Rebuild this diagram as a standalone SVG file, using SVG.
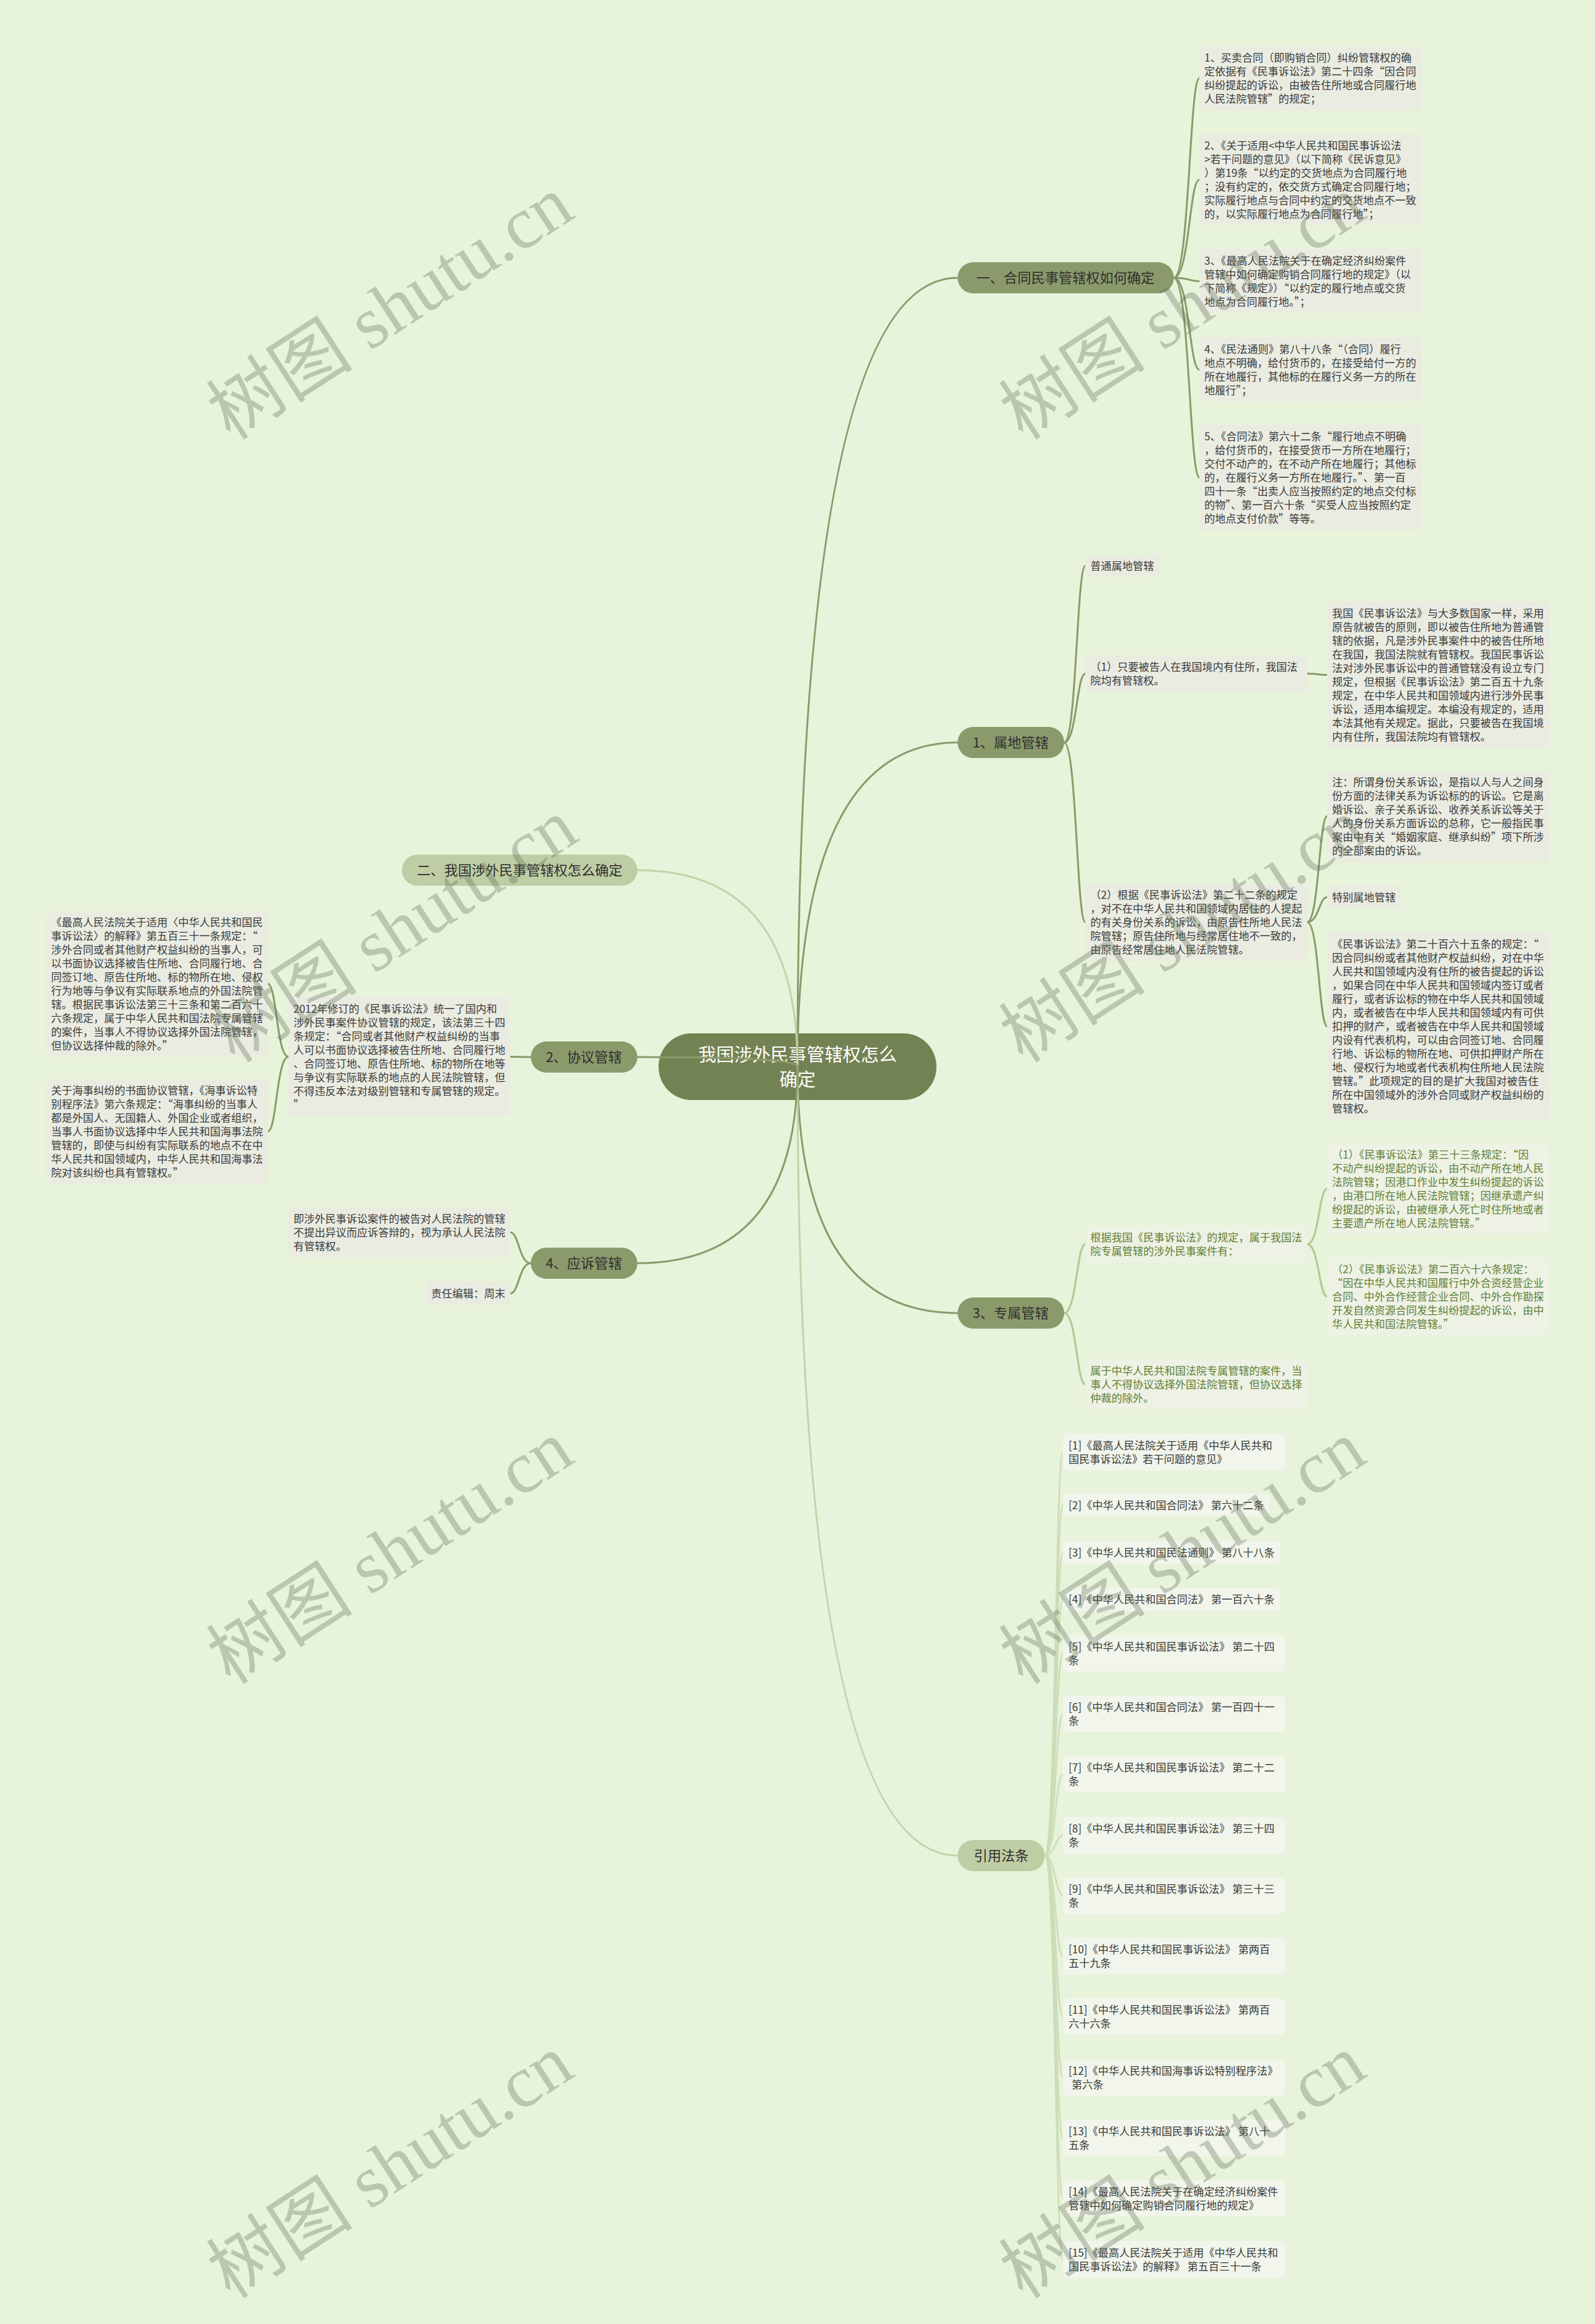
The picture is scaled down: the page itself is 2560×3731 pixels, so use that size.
<svg xmlns="http://www.w3.org/2000/svg" width="2560" height="3731" viewBox="0 0 2560 3731">
<style>
.t{font-family:"Noto Sans CJK SC","Noto Sans",sans-serif;font-size:17px;fill:#3a3a3a}
.g{fill:#5e7f36}
.box{fill:#eaece2}
.boxg{fill:#eef2e5}
.boxr{fill:#f1f5eb}
.n1{fill:#8b9a6b}
.n1l{fill:#bfcda5}
.lt{font-family:"Noto Sans CJK SC","Noto Sans",sans-serif;font-size:22px;fill:#2e2e2e;text-anchor:middle}
.rt{font-family:"Noto Sans CJK SC","Noto Sans",sans-serif;font-size:29px;fill:#ffffff;text-anchor:middle}
.cd{fill:none;stroke:#8b9a6b;stroke-width:3}
.cl{fill:none;stroke:#c3d3aa;stroke-width:3}
.cg{fill:none;stroke:#b2c694;stroke-width:3}
.cp{fill:none;stroke:#cddcb8;stroke-width:2.5}
.wm{font-family:"Liberation Serif","Noto Sans CJK SC",serif;font-size:118px;fill:#5f6e55;fill-opacity:0.33;text-anchor:middle}
</style>
<rect width="2560" height="3731" fill="#e7f3da"/>

<g id="root">
<rect x="1057" y="1659" width="446" height="107" rx="53" fill="#738253"/>
<text class="rt"><tspan x="1280" y="1704">我国涉外民事管辖权怎么</tspan><tspan x="1280" y="1744">确定</tspan></text>
</g>

<g id="connectors">
<path class="cd" d="M1280,1712 Q1280,446 1537,446"/>
<path class="cd" d="M1280,1712 Q1280,1192 1537,1192"/>
<path class="cd" d="M1280,1712 Q1280,2108 1537,2108"/>
<path class="cl" d="M1280,1712 Q1280,2979 1537,2979"/>
<path class="cl" d="M1280,1712 Q1280,1397 1023,1397"/>
<path class="cd" d="M1280,1712 Q1280,1697 1023,1697"/>
<path class="cd" d="M1280,1712 Q1280,2028 1023,2028"/>

<path class="cd" d="M1884,446 C1909,446 1909,125.5 1925,125.5"/>
<path class="cd" d="M1884,446 C1909,446 1909,288.5 1925,288.5"/>
<path class="cd" d="M1884,446 C1909,446 1909,451.5 1925,451.5"/>
<path class="cd" d="M1884,446 C1909,446 1909,593.5 1925,593.5"/>
<path class="cd" d="M1884,446 C1909,446 1909,766.5 1925,766.5"/>

<path class="cd" d="M1708,1192 C1728,1192 1728,908.5 1742,908.5"/>
<path class="cd" d="M1708,1192 C1728,1192 1728,1081.5 1742,1081.5"/>
<path class="cd" d="M1708,1192 C1728,1192 1728,1480.5 1742,1480.5"/>
<path class="cd" d="M2098,1081.5 C2117,1081.5 2117,1083.5 2130,1083.5"/>
<path class="cd" d="M2098,1480.5 C2117,1480.5 2117,1310.5 2130,1310.5"/>
<path class="cd" d="M2098,1480.5 C2117,1480.5 2117,1440.5 2130,1440.5"/>
<path class="cd" d="M2098,1480.5 C2117,1480.5 2117,1647.5 2130,1647.5"/>

<path class="cg" d="M1708,2108 C1728,2108 1728,1997.5 1742,1997.5"/>
<path class="cg" d="M1708,2108 C1728,2108 1728,2222.5 1742,2222.5"/>
<path class="cg" d="M2098,1997.5 C2117,1997.5 2117,1908.5 2130,1908.5"/>
<path class="cg" d="M2098,1997.5 C2117,1997.5 2117,2081.5 2130,2081.5"/>

<path class="cp" d="M1677,2979 C1694,2979 1694,2331.5 1706,2331.5"/>
<path class="cp" d="M1677,2979 C1694,2979 1694,2416.5 1706,2416.5"/>
<path class="cp" d="M1677,2979 C1694,2979 1694,2492.5 1706,2492.5"/>
<path class="cp" d="M1677,2979 C1694,2979 1694,2567.5 1706,2567.5"/>
<path class="cp" d="M1677,2979 C1694,2979 1694,2654.5 1706,2654.5"/>
<path class="cp" d="M1677,2979 C1694,2979 1694,2751.5 1706,2751.5"/>
<path class="cp" d="M1677,2979 C1694,2979 1694,2848.5 1706,2848.5"/>
<path class="cp" d="M1677,2979 C1694,2979 1694,2946.5 1706,2946.5"/>
<path class="cp" d="M1677,2979 C1694,2979 1694,3043.5 1706,3043.5"/>
<path class="cp" d="M1677,2979 C1694,2979 1694,3140.5 1706,3140.5"/>
<path class="cp" d="M1677,2979 C1694,2979 1694,3237.5 1706,3237.5"/>
<path class="cp" d="M1677,2979 C1694,2979 1694,3335.5 1706,3335.5"/>
<path class="cp" d="M1677,2979 C1694,2979 1694,3432.5 1706,3432.5"/>
<path class="cp" d="M1677,2979 C1694,2979 1694,3529.5 1706,3529.5"/>
<path class="cp" d="M1677,2979 C1694,2979 1694,3627.5 1706,3627.5"/>

<path class="cd" d="M852,1697 C836,1697 836,1696.5 819,1696.5"/>
<path class="cd" d="M463,1696.5 C444,1696.5 444,1579.5 430,1579.5"/>
<path class="cd" d="M463,1696.5 C444,1696.5 444,1816.5 430,1816.5"/>
<path class="cd" d="M852,2028 C833,2028 833,1978.5 819,1978.5"/>
<path class="cd" d="M852,2028 C833,2028 833,2076.5 819,2076.5"/>
</g>

<g id="n-yi">
<rect class="n1" x="1537" y="421" width="347" height="50" rx="25"/>
<text class="lt" x="1710" y="454">一、合同民事管辖权如何确定</text>
</g>
<g id="n-shudi">
<rect class="n1" x="1537" y="1167" width="171" height="50" rx="25"/>
<text class="lt" x="1622" y="1200">1、属地管辖</text>
</g>
<g id="n-zhuanshu">
<rect class="n1" x="1537" y="2083" width="171" height="50" rx="25"/>
<text class="lt" x="1622" y="2116">3、专属管辖</text>
</g>
<g id="n-yinyong">
<rect class="n1l" x="1537" y="2954" width="140" height="50" rx="25"/>
<text class="lt" x="1607" y="2987">引用法条</text>
</g>
<g id="n-er">
<rect class="n1l" x="645" y="1372" width="378" height="50" rx="25"/>
<text class="lt" x="834" y="1405">二、我国涉外民事管辖权怎么确定</text>
</g>
<g id="n-xieyi">
<rect class="n1" x="852" y="1672" width="171" height="50" rx="25"/>
<text class="lt" x="937" y="1705">2、协议管辖</text>
</g>
<g id="n-yingsu">
<rect class="n1" x="852" y="2003" width="171" height="50" rx="25"/>
<text class="lt" x="937" y="2036">4、应诉管辖</text>
</g>

<g id="yi-1"><rect class="box" x="1925" y="74" width="357" height="103" rx="8"/>
<text class="t"><tspan x="1933" y="99">1、买卖合同（即购销合同）纠纷管辖权的确</tspan><tspan x="1933" y="121">定依据有《民事诉讼法》第二十四条“因合同</tspan><tspan x="1933" y="143">纠纷提起的诉讼，由被告住所地或合同履行地</tspan><tspan x="1933" y="165">人民法院管辖”的规定；</tspan></text></g>
<g id="yi-2"><rect class="box" x="1925" y="215" width="357" height="147" rx="8"/>
<text class="t"><tspan x="1933" y="240">2、《关于适用&lt;中华人民共和国民事诉讼法</tspan><tspan x="1933" y="262">&gt;若干问题的意见》（以下简称《民诉意见》</tspan><tspan x="1933" y="284">）第19条“以约定的交货地点为合同履行地</tspan><tspan x="1933" y="306">；没有约定的，依交货方式确定合同履行地；</tspan><tspan x="1933" y="328">实际履行地点与合同中约定的交货地点不一致</tspan><tspan x="1933" y="350">的，以实际履行地点为合同履行地”；</tspan></text></g>
<g id="yi-3"><rect class="box" x="1925" y="400" width="357" height="103" rx="8"/>
<text class="t"><tspan x="1933" y="425">3、《最高人民法院关于在确定经济纠纷案件</tspan><tspan x="1933" y="447">管辖中如何确定购销合同履行地的规定》（以</tspan><tspan x="1933" y="469">下简称《规定》）“以约定的履行地点或交货</tspan><tspan x="1933" y="491">地点为合同履行地。”；</tspan></text></g>
<g id="yi-4"><rect class="box" x="1925" y="542" width="357" height="103" rx="8"/>
<text class="t"><tspan x="1933" y="567">4、《民法通则》第八十八条“（合同）履行</tspan><tspan x="1933" y="589">地点不明确，给付货币的，在接受给付一方的</tspan><tspan x="1933" y="611">所在地履行，其他标的在履行义务一方的所在</tspan><tspan x="1933" y="633">地履行”；</tspan></text></g>
<g id="yi-5"><rect class="box" x="1925" y="682" width="357" height="169" rx="8"/>
<text class="t"><tspan x="1933" y="707">5、《合同法》第六十二条“履行地点不明确</tspan><tspan x="1933" y="729">，给付货币的，在接受货币一方所在地履行；</tspan><tspan x="1933" y="751">交付不动产的，在不动产所在地履行；其他标</tspan><tspan x="1933" y="773">的，在履行义务一方所在地履行。”、第一百</tspan><tspan x="1933" y="795">四十一条“出卖人应当按照约定的地点交付标</tspan><tspan x="1933" y="817">的物”、第一百六十条“买受人应当按照约定</tspan><tspan x="1933" y="839">的地点支付价款”等等。</tspan></text></g>

<g id="sd-putong"><rect class="box" x="1742" y="890" width="118" height="37" rx="8"/>
<text class="t" x="1750" y="915">普通属地管辖</text></g>
<g id="sd-1"><rect class="box" x="1742" y="1052" width="356" height="59" rx="8"/>
<text class="t"><tspan x="1750" y="1077">（1）只要被告人在我国境内有住所，我国法</tspan><tspan x="1750" y="1099">院均有管辖权。</tspan></text></g>
<g id="sd-1a"><rect class="box" x="2130" y="966" width="357" height="235" rx="8"/>
<text class="t"><tspan x="2138" y="991">我国《民事诉讼法》与大多数国家一样，采用</tspan><tspan x="2138" y="1013">原告就被告的原则，即以被告住所地为普通管</tspan><tspan x="2138" y="1035">辖的依据，凡是涉外民事案件中的被告住所地</tspan><tspan x="2138" y="1057">在我国，我国法院就有管辖权。我国民事诉讼</tspan><tspan x="2138" y="1079">法对涉外民事诉讼中的普通管辖没有设立专门</tspan><tspan x="2138" y="1101">规定，但根据《民事诉讼法》第二百五十九条</tspan><tspan x="2138" y="1123">规定，在中华人民共和国领域内进行涉外民事</tspan><tspan x="2138" y="1145">诉讼，适用本编规定。本编没有规定的，适用</tspan><tspan x="2138" y="1167">本法其他有关规定。据此，只要被告在我国境</tspan><tspan x="2138" y="1189">内有住所，我国法院均有管辖权。</tspan></text></g>
<g id="sd-2"><rect class="box" x="1742" y="1418" width="356" height="125" rx="8"/>
<text class="t"><tspan x="1750" y="1443">（2）根据《民事诉讼法》第二十二条的规定</tspan><tspan x="1750" y="1465">，对不在中华人民共和国领域内居住的人提起</tspan><tspan x="1750" y="1487">的有关身份关系的诉讼，由原告住所地人民法</tspan><tspan x="1750" y="1509">院管辖；原告住所地与经常居住地不一致的，</tspan><tspan x="1750" y="1531">由原告经常居住地人民法院管辖。</tspan></text></g>
<g id="sd-2a"><rect class="box" x="2130" y="1237" width="357" height="147" rx="8"/>
<text class="t"><tspan x="2138" y="1262">注：所谓身份关系诉讼，是指以人与人之间身</tspan><tspan x="2138" y="1284">份方面的法律关系为诉讼标的的诉讼。它是离</tspan><tspan x="2138" y="1306">婚诉讼、亲子关系诉讼、收养关系诉讼等关于</tspan><tspan x="2138" y="1328">人的身份关系方面诉讼的总称，它一般指民事</tspan><tspan x="2138" y="1350">案由中有关“婚姻家庭、继承纠纷”项下所涉</tspan><tspan x="2138" y="1372">的全部案由的诉讼。</tspan></text></g>
<g id="sd-2b"><rect class="box" x="2130" y="1422" width="118" height="37" rx="8"/>
<text class="t" x="2138" y="1447">特别属地管辖</text></g>
<g id="sd-2c"><rect class="box" x="2130" y="1497" width="357" height="301" rx="8"/>
<text class="t"><tspan x="2138" y="1522">《民事诉讼法》第二十百六十五条的规定：“</tspan><tspan x="2138" y="1544">因合同纠纷或者其他财产权益纠纷，对在中华</tspan><tspan x="2138" y="1566">人民共和国领域内没有住所的被告提起的诉讼</tspan><tspan x="2138" y="1588">，如果合同在中华人民共和国领域内签订或者</tspan><tspan x="2138" y="1610">履行，或者诉讼标的物在中华人民共和国领域</tspan><tspan x="2138" y="1632">内，或者被告在中华人民共和国领域内有可供</tspan><tspan x="2138" y="1654">扣押的财产，或者被告在中华人民共和国领域</tspan><tspan x="2138" y="1676">内设有代表机构，可以由合同签订地、合同履</tspan><tspan x="2138" y="1698">行地、诉讼标的物所在地、可供扣押财产所在</tspan><tspan x="2138" y="1720">地、侵权行为地或者代表机构住所地人民法院</tspan><tspan x="2138" y="1742">管辖。”此项规定的目的是扩大我国对被告住</tspan><tspan x="2138" y="1764">所在中国领域外的涉外合同或财产权益纠纷的</tspan><tspan x="2138" y="1786">管辖权。</tspan></text></g>

<g id="zs-1"><rect class="boxg" x="1742" y="1968" width="356" height="59" rx="8"/>
<text class="t g"><tspan x="1750" y="1993">根据我国《民事诉讼法》的规定，属于我国法</tspan><tspan x="1750" y="2015">院专属管辖的涉外民事案件有：</tspan></text></g>
<g id="zs-2"><rect class="boxg" x="1742" y="2182" width="356" height="81" rx="8"/>
<text class="t g"><tspan x="1750" y="2207">属于中华人民共和国法院专属管辖的案件，当</tspan><tspan x="1750" y="2229">事人不得协议选择外国法院管辖，但协议选择</tspan><tspan x="1750" y="2251">仲裁的除外。</tspan></text></g>
<g id="zs-1a"><rect class="boxg" x="2130" y="1835" width="357" height="147" rx="8"/>
<text class="t g"><tspan x="2138" y="1860">（1）《民事诉讼法》第三十三条规定：“因</tspan><tspan x="2138" y="1882">不动产纠纷提起的诉讼，由不动产所在地人民</tspan><tspan x="2138" y="1904">法院管辖；因港口作业中发生纠纷提起的诉讼</tspan><tspan x="2138" y="1926">，由港口所在地人民法院管辖；因继承遗产纠</tspan><tspan x="2138" y="1948">纷提起的诉讼，由被继承人死亡时住所地或者</tspan><tspan x="2138" y="1970">主要遗产所在地人民法院管辖。”</tspan></text></g>
<g id="zs-1b"><rect class="boxg" x="2130" y="2019" width="357" height="125" rx="8"/>
<text class="t g"><tspan x="2138" y="2044">（2）《民事诉讼法》第二百六十六条规定：</tspan><tspan x="2138" y="2066">“因在中华人民共和国履行中外合资经营企业</tspan><tspan x="2138" y="2088">合同、中外合作经营企业合同、中外合作勘探</tspan><tspan x="2138" y="2110">开发自然资源合同发生纠纷提起的诉讼，由中</tspan><tspan x="2138" y="2132">华人民共和国法院管辖。”</tspan></text></g>

<g id="xy-1"><rect class="box" x="463" y="1601" width="356" height="191" rx="8"/>
<text class="t"><tspan x="471" y="1626">2012年修订的《民事诉讼法》统一了国内和</tspan><tspan x="471" y="1648">涉外民事案件协议管辖的规定，该法第三十四</tspan><tspan x="471" y="1670">条规定：“合同或者其他财产权益纠纷的当事</tspan><tspan x="471" y="1692">人可以书面协议选择被告住所地、合同履行地</tspan><tspan x="471" y="1714">、合同签订地、原告住所地、标的物所在地等</tspan><tspan x="471" y="1736">与争议有实际联系的地点的人民法院管辖，但</tspan><tspan x="471" y="1758">不得违反本法对级别管辖和专属管辖的规定。</tspan><tspan x="471" y="1780">”</tspan></text></g>
<g id="xy-1a"><rect class="box" x="74" y="1462" width="356" height="235" rx="8"/>
<text class="t"><tspan x="82" y="1487">《最高人民法院关于适用〈中华人民共和国民</tspan><tspan x="82" y="1509">事诉讼法〉的解释》第五百三十一条规定：“</tspan><tspan x="82" y="1531">涉外合同或者其他财产权益纠纷的当事人，可</tspan><tspan x="82" y="1553">以书面协议选择被告住所地、合同履行地、合</tspan><tspan x="82" y="1575">同签订地、原告住所地、标的物所在地、侵权</tspan><tspan x="82" y="1597">行为地等与争议有实际联系地点的外国法院管</tspan><tspan x="82" y="1619">辖。根据民事诉讼法第三十三条和第二百六十</tspan><tspan x="82" y="1641">六条规定，属于中华人民共和国法院专属管辖</tspan><tspan x="82" y="1663">的案件，当事人不得协议选择外国法院管辖，</tspan><tspan x="82" y="1685">但协议选择仲裁的除外。”</tspan></text></g>
<g id="xy-1b"><rect class="box" x="74" y="1732" width="356" height="169" rx="8"/>
<text class="t"><tspan x="82" y="1757">关于海事纠纷的书面协议管辖，《海事诉讼特</tspan><tspan x="82" y="1779">别程序法》第六条规定：“海事纠纷的当事人</tspan><tspan x="82" y="1801">都是外国人、无国籍人、外国企业或者组织，</tspan><tspan x="82" y="1823">当事人书面协议选择中华人民共和国海事法院</tspan><tspan x="82" y="1845">管辖的，即使与纠纷有实际联系的地点不在中</tspan><tspan x="82" y="1867">华人民共和国领域内，中华人民共和国海事法</tspan><tspan x="82" y="1889">院对该纠纷也具有管辖权。”</tspan></text></g>

<g id="ys-1"><rect class="box" x="463" y="1938" width="356" height="81" rx="8"/>
<text class="t"><tspan x="471" y="1963">即涉外民事诉讼案件的被告对人民法院的管辖</tspan><tspan x="471" y="1985">不提出异议而应诉答辩的，视为承认人民法院</tspan><tspan x="471" y="2007">有管辖权。</tspan></text></g>
<g id="ys-2"><rect class="box" x="684" y="2058" width="135" height="37" rx="8"/>
<text class="t" x="692" y="2083">责任编辑：周末</text></g>

<g id="ref-1"><rect class="boxr" x="1706" y="2302" width="357" height="59" rx="8"/><text class="t"><tspan x="1715" y="2327">[1]《最高人民法院关于适用《中华人民共和</tspan><tspan x="1715" y="2349">国民事诉讼法》若干问题的意见》</tspan></text></g>
<g id="ref-2"><rect class="boxr" x="1706" y="2398" width="332" height="37" rx="8"/><text class="t" x="1715" y="2423">[2]《中华人民共和国合同法》 第六十二条</text></g>
<g id="ref-3"><rect class="boxr" x="1706" y="2474" width="349" height="37" rx="8"/><text class="t" x="1715" y="2499">[3]《中华人民共和国民法通则》 第八十八条</text></g>
<g id="ref-4"><rect class="boxr" x="1706" y="2549" width="349" height="37" rx="8"/><text class="t" x="1715" y="2574">[4]《中华人民共和国合同法》 第一百六十条</text></g>
<g id="ref-5"><rect class="boxr" x="1706" y="2625" width="357" height="59" rx="8"/><text class="t"><tspan x="1715" y="2650">[5]《中华人民共和国民事诉讼法》 第二十四</tspan><tspan x="1715" y="2672">条</tspan></text></g>
<g id="ref-6"><rect class="boxr" x="1706" y="2722" width="357" height="59" rx="8"/><text class="t"><tspan x="1715" y="2747">[6]《中华人民共和国合同法》 第一百四十一</tspan><tspan x="1715" y="2769">条</tspan></text></g>
<g id="ref-7"><rect class="boxr" x="1706" y="2819" width="357" height="59" rx="8"/><text class="t"><tspan x="1715" y="2844">[7]《中华人民共和国民事诉讼法》 第二十二</tspan><tspan x="1715" y="2866">条</tspan></text></g>
<g id="ref-8"><rect class="boxr" x="1706" y="2917" width="357" height="59" rx="8"/><text class="t"><tspan x="1715" y="2942">[8]《中华人民共和国民事诉讼法》 第三十四</tspan><tspan x="1715" y="2964">条</tspan></text></g>
<g id="ref-9"><rect class="boxr" x="1706" y="3014" width="357" height="59" rx="8"/><text class="t"><tspan x="1715" y="3039">[9]《中华人民共和国民事诉讼法》 第三十三</tspan><tspan x="1715" y="3061">条</tspan></text></g>
<g id="ref-10"><rect class="boxr" x="1706" y="3111" width="357" height="59" rx="8"/><text class="t"><tspan x="1715" y="3136">[10]《中华人民共和国民事诉讼法》 第两百</tspan><tspan x="1715" y="3158">五十九条</tspan></text></g>
<g id="ref-11"><rect class="boxr" x="1706" y="3208" width="357" height="59" rx="8"/><text class="t"><tspan x="1715" y="3233">[11]《中华人民共和国民事诉讼法》 第两百</tspan><tspan x="1715" y="3255">六十六条</tspan></text></g>
<g id="ref-12"><rect class="boxr" x="1706" y="3306" width="357" height="59" rx="8"/><text class="t"><tspan x="1715" y="3331">[12]《中华人民共和国海事诉讼特别程序法》</tspan><tspan x="1720" y="3353">第六条</tspan></text></g>
<g id="ref-13"><rect class="boxr" x="1706" y="3403" width="357" height="59" rx="8"/><text class="t"><tspan x="1715" y="3428">[13]《中华人民共和国民事诉讼法》 第八十</tspan><tspan x="1715" y="3450">五条</tspan></text></g>
<g id="ref-14"><rect class="boxr" x="1706" y="3500" width="357" height="59" rx="8"/><text class="t"><tspan x="1715" y="3525">[14]《最高人民法院关于在确定经济纠纷案件</tspan><tspan x="1715" y="3547">管辖中如何确定购销合同履行地的规定》</tspan></text></g>
<g id="ref-15"><rect class="boxr" x="1706" y="3598" width="357" height="59" rx="8"/><text class="t"><tspan x="1715" y="3623">[15]《最高人民法院关于适用《中华人民共和</tspan><tspan x="1715" y="3645">国民事诉讼法》的解释》 第五百三十一条</tspan></text></g>

<g id="watermarks">
<text class="wm" transform="translate(648,528) rotate(-33)">树图 shutu.cn</text>
<text class="wm" transform="translate(1920,528) rotate(-33)">树图 shutu.cn</text>
<text class="wm" transform="translate(655,1528) rotate(-33)">树图 shutu.cn</text>
<text class="wm" transform="translate(1920,1528) rotate(-33)">树图 shutu.cn</text>
<text class="wm" transform="translate(648,2526) rotate(-33)">树图 shutu.cn</text>
<text class="wm" transform="translate(1920,2526) rotate(-33)">树图 shutu.cn</text>
<text class="wm" transform="translate(648,3512) rotate(-33)">树图 shutu.cn</text>
<text class="wm" transform="translate(1920,3512) rotate(-33)">树图 shutu.cn</text>
</g>
</svg>
